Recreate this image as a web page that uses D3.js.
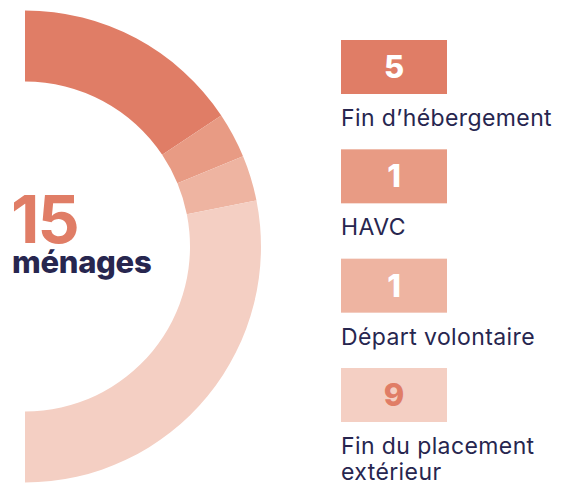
<!DOCTYPE html>
<html>
<head>
<meta charset="utf-8">
<script src="https://cdn.jsdelivr.net/npm/d3@7"></script>
<style>
  html, body { margin: 0; padding: 0; background: #fff; }
  svg { display: block; font-family: Inter, "Noto Sans", sans-serif; }
</style>
</head>
<body>
<svg id="chart" width="567" height="484"></svg>
<script>
var categories = ['Fin d\u2019hébergement', 'HAVC', 'Départ volontaire', 'Fin du placement extérieur'];
var values = [5, 1, 1, 9];
var totalLabel = '15';
var totalCaption = 'ménages';

var colors = d3.scaleOrdinal().domain(categories).range(['#e07d66', '#e89b84', '#eeb4a1', '#f4cfc3']);
var numberColors = ['#ffffff', '#ffffff', '#ffffff', '#e07d66'];
var navy = '#27264f';

var cx = 25, cy = 246.5,
    outerR = 236, innerR = 165;

var svg = d3.select('#chart');

// half donut on the right side
var pie = d3.pie().sort(null).value(function (d) { return d; })
    .startAngle(0).endAngle(Math.PI);
var arc = d3.arc().innerRadius(innerR).outerRadius(outerR);

var g = svg.append('g').attr('transform', 'translate(' + cx + ',' + cy + ')');
g.selectAll('path')
    .data(pie(values))
    .enter()
    .append('path')
    .attr('d', arc)
    .attr('fill', function (d, i) { return colors(categories[i]); });

// center label
svg.append('text')
    .attr('x', 11)
    .attr('y', 243)
    .attr('fill', '#e07d66')
    .attr('font-size', 66)
    .attr('font-weight', 700)
    .attr('letter-spacing', -2)
    .text(totalLabel);
svg.append('text')
    .attr('x', 12)
    .attr('y', 273)
    .attr('fill', navy)
    .attr('font-size', 31)
    .attr('font-weight', 800)
    .attr('letter-spacing', -0.3)
    .text(totalCaption);

// legend
var y = d3.scalePoint().domain(categories).range([40, 368]);
var boxX = 341, boxW = 106, boxH = 54;

var item = svg.selectAll('.item')
    .data(categories)
    .enter()
    .append('g')
    .attr('class', 'item')
    .attr('transform', function (d) { return 'translate(' + boxX + ',' + y(d) + ')'; });

item.append('rect')
    .attr('width', boxW)
    .attr('height', boxH)
    .attr('fill', function (d) { return colors(d); });

item.append('text')
    .attr('x', boxW / 2)
    .attr('y', 38)
    .attr('text-anchor', 'middle')
    .attr('font-size', 31)
    .attr('font-weight', 800)
    .attr('fill', function (d, i) { return numberColors[i]; })
    .text(function (d, i) { return values[i]; });

item.append('text')
    .attr('y', 86)
    .attr('fill', navy)
    .attr('font-size', 23)
    .attr('font-weight', 400)
    .attr('letter-spacing', 0.4)
    .selectAll('tspan')
    .data(function (d) {
        return d === 'Fin du placement extérieur' ? ['Fin du placement', 'extérieur'] : [d];
    })
    .enter()
    .append('tspan')
    .attr('x', 0)
    .attr('dy', function (d, i) { return i ? 26 : 0; })
    .text(function (d) { return d; });
</script>
</body>
</html>
